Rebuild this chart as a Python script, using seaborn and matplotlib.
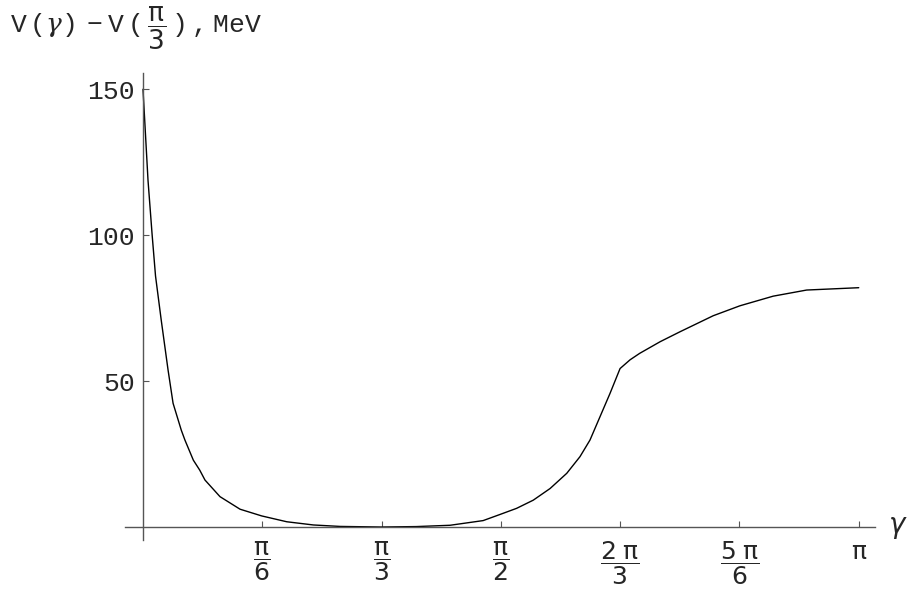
import numpy as np
import pandas as pd
import seaborn as sns
import matplotlib.pyplot as plt

# values (gamma in rad, V in MeV)
gamma = [0.0, 0.022, 0.040, 0.055, 0.080, 0.110, 0.132, 0.168, 0.184, 0.221,
         0.249, 0.272, 0.338, 0.426, 0.521, 0.631, 0.748, 0.865, 1.047, 1.200,
         1.348, 1.493, 1.567, 1.640, 1.713, 1.787, 1.860, 1.918, 1.962, 2.006,
         2.050, 2.094, 2.138, 2.180, 2.270, 2.357, 2.503, 2.620, 2.766, 2.913,
         3.1416]
v = [150.0, 118.8, 100.2, 86.0, 70.9, 53.8, 42.4, 33.2, 29.8, 22.9,
     19.5, 16.1, 10.4, 6.1, 3.8, 1.8, 0.7, 0.2, 0.0, 0.15,
     0.6, 2.2, 4.3, 6.4, 9.2, 13.2, 18.4, 24.1, 29.8, 37.8,
     45.8, 54.3, 57.3, 59.5, 63.5, 66.9, 72.4, 75.8, 79.1, 81.2,
     82.0]

xticks = [np.pi / 6, np.pi / 3, np.pi / 2, 2 * np.pi / 3, 5 * np.pi / 6, np.pi]
xlabels = [r"$\dfrac{\mathrm{\pi}}{6}$", r"$\dfrac{\mathrm{\pi}}{3}$",
           r"$\dfrac{\mathrm{\pi}}{2}$", r"$\dfrac{2\;\mathrm{\pi}}{3}$",
           r"$\dfrac{5\;\mathrm{\pi}}{6}$", r"$\mathrm{\pi}$"]
yticks = [50, 100, 150]
ylabels = ["50", "100", "150"]

df = pd.DataFrame({"gamma": gamma, "V": v})

sns.set_style("white")
plt.rcParams["font.family"] = ["DejaVu Sans"]
plt.rcParams["mathtext.fontset"] = "custom"
plt.rcParams["mathtext.rm"] = "Liberation Mono"
plt.rcParams["mathtext.it"] = "DejaVu Serif:italic"
plt.rcParams["mathtext.sf"] = "DejaVu Sans"

fig = plt.figure(figsize=(9.18, 6), dpi=100)
ax = fig.add_axes([125 / 918, 0.1, 750 / 918, 0.778])

sns.lineplot(data=df, x="gamma", y="V", color="black", linewidth=1.0, ax=ax)

ax.set_xlim(-0.079, 3.213)
ax.set_ylim(-4.45, 155.5)

axcol = "#555555"
for side in ["top", "right"]:
    ax.spines[side].set_visible(False)
ax.spines["left"].set_position(("data", 0))
ax.spines["bottom"].set_position(("data", 0))
for side in ["left", "bottom"]:
    ax.spines[side].set_color(axcol)
    ax.spines[side].set_linewidth(1.0)

ax.set_xticks(xticks)
ax.set_xticklabels(xlabels)
for t in ax.get_xticklabels():
    t.set_math_fontfamily("dejavusans")
    t.set_fontsize(18)
ax.set_yticks(yticks)
ax.set_yticklabels(ylabels, fontfamily="Liberation Mono", fontsize=19)
ax.tick_params(axis="both", direction="in", length=4, width=0.8, color=axcol,
               bottom=True, left=True)
ax.tick_params(axis="x", pad=9)
ax.tick_params(axis="y", pad=6)
ax.set_xlabel("")
ax.set_ylabel("")

ax.text(3.27, 0, r"$\gamma$", fontsize=20, va="center", ha="left",
        math_fontfamily="dejavusans")
fig.text(10 / 918, 1 - 28 / 600,
         r"$\mathrm{V\,(}\gamma\mathrm{)\,-V\,(\,}\dfrac{\mathsf{\pi}}{\mathsf{3}}\mathrm{\,)\,,MeV}$",
         fontsize=19, va="center", ha="left")

fig.savefig("out.png", dpi=100)
